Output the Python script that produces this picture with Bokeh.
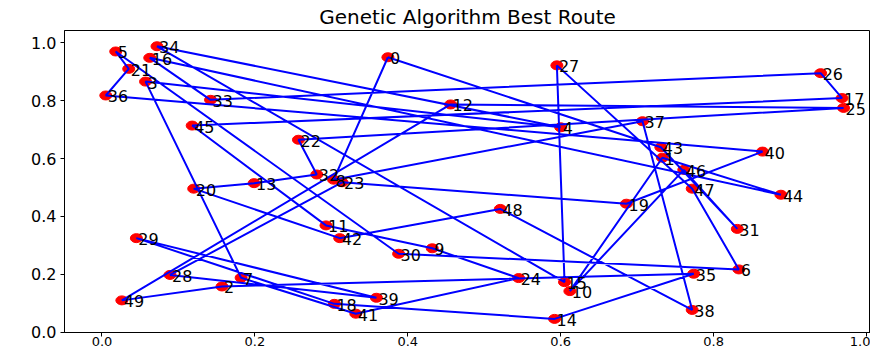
from bokeh.plotting import figure
from bokeh.models import Range1d, FixedTicker, NumeralTickFormatter
from bokeh.core.properties import value
from bokeh.embed import file_html
from bokeh.resources import INLINE

# City coordinates (index = city id)
city_x = [0.374, 0.733, 0.157, 0.057, 0.600, 0.018, 0.833, 0.182, 0.303, 0.432,
          0.612, 0.293, 0.456, 0.199, 0.592, 0.605, 0.0625, 0.968, 0.304, 0.686,
          0.120, 0.035, 0.257, 0.314, 0.545, 0.970, 0.940, 0.595, 0.089, 0.045,
          0.388, 0.831, 0.281, 0.142, 0.072, 0.774, 0.005, 0.707, 0.772, 0.359,
          0.864, 0.332, 0.311, 0.731, 0.888, 0.118, 0.761, 0.772, 0.521, 0.026]
city_y = [0.950, 0.603, 0.158, 0.866, 0.708, 0.970, 0.217, 0.188, 0.527, 0.290,
          0.142, 0.369, 0.787, 0.515, 0.046, 0.173, 0.948, 0.809, 0.098, 0.444,
          0.496, 0.910, 0.665, 0.518, 0.187, 0.775, 0.895, 0.922, 0.198, 0.325,
          0.271, 0.357, 0.545, 0.803, 0.988, 0.202, 0.818, 0.729, 0.077, 0.119,
          0.624, 0.064, 0.325, 0.639, 0.475, 0.714, 0.561, 0.496, 0.426, 0.110]

# Best route (visiting order), closed back to the start
route = [0, 8, 37, 38, 48, 42, 20, 13, 32, 22, 25, 12, 49, 2, 35, 14, 18, 29, 39, 28,
         23, 19, 40, 36, 21, 5, 30, 6, 47, 27, 15, 34, 4, 3, 7, 41, 24, 9, 11, 45,
         17, 26, 33, 16, 44, 1, 10, 46, 31, 43]

tick_values = [0.0, 0.2, 0.4, 0.6, 0.8, 1.0]
labels = [str(i) for i in range(len(city_x))]

closed = route + [route[0]]
route_x = [city_x[i] for i in closed]
route_y = [city_y[i] for i in closed]

p = figure(frame_width=806, frame_height=302, output_backend="svg",
           toolbar_location=None,
           x_range=Range1d(-0.049, 1.0052), y_range=Range1d(-0.001, 1.0425),
           title="Genetic Algorithm Best Route")
p.min_border_left = 64
p.min_border_right = 0
p.min_border_top = 30
p.min_border_bottom = 17

p.title.align = "center"
p.title.offset = -27
p.title.text_font = "DejaVu Sans"
p.title.text_font_size = "20px"
p.title.text_font_style = "normal"
p.title.text_color = "black"
p.title.standoff = 4

p.xgrid.visible = False
p.ygrid.visible = False
p.outline_line_color = "black"
p.outline_line_alpha = 1.0
p.outline_line_width = 1
p.background_fill_color = "white"
p.border_fill_color = "white"

for ax in (p.xaxis[0], p.yaxis[0]):
    ax.ticker = FixedTicker(ticks=tick_values)
    ax.formatter = NumeralTickFormatter(format="0.0")
    ax.axis_line_color = "black"
    ax.major_tick_line_color = "black"
    ax.major_tick_out = 4
    ax.major_tick_in = 0
    ax.minor_tick_line_color = None
    ax.major_label_text_font = "DejaVu Sans"
    ax.major_label_text_color = "black"

p.yaxis[0].major_label_text_font_size = "16px"
p.yaxis[0].major_label_standoff = 4
p.xaxis[0].major_label_text_font_size = "13px"
p.xaxis[0].major_label_standoff = 0

p.ellipse(x=city_x, y=city_y, width=12, height=9, width_units="screen",
          height_units="screen", fill_color="red", line_color="red")
p.line(route_x, route_y, line_color="blue", line_width=2)
p.text(x=city_x, y=city_y, text=labels, text_font=value("DejaVu Sans"),
       text_font_size="16px", text_color="black", text_align="left",
       text_baseline="alphabetic", x_offset=2, y_offset=1)

open("out.html", "w").write(file_html(p, INLINE))
